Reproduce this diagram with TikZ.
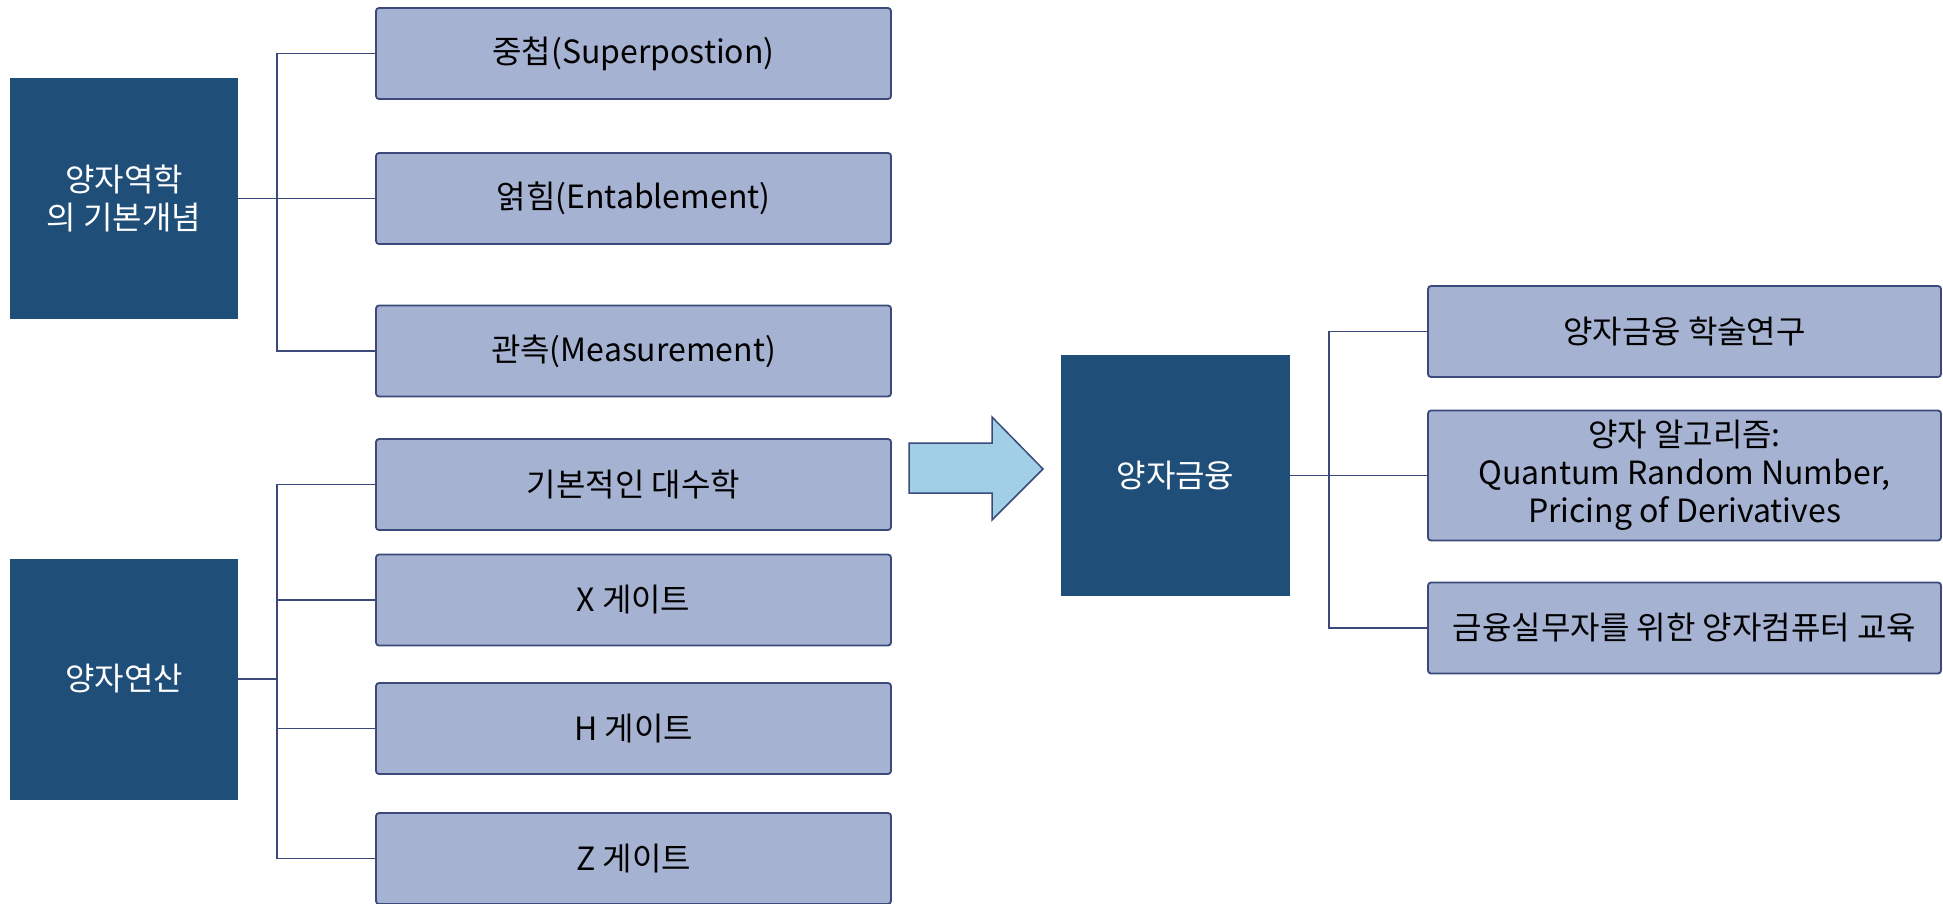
\documentclass[tikz,border=0pt]{standalone}
\usepackage{fontspec}
\setmainfont{Noto Sans CJK KR}
\usetikzlibrary{positioning}
\usetikzlibrary{calc}

\definecolor{headblue}{RGB}{31,78,121}
\definecolor{itemblue}{RGB}{165,178,210}
\definecolor{edgeblue}{RGB}{59,74,122}
\definecolor{arrowblue}{RGB}{161,208,230}

\begin{document}
\begin{tikzpicture}[x=1pt, y=-1pt,
	headbox/.style={rectangle, fill=headblue, text=white, minimum width=228pt, minimum height=241pt, inner sep=0pt, align=center, font=\fontsize{32}{38}\selectfont},
	itembox/.style={rectangle, rounded corners=3pt, draw=edgeblue, fill=itemblue, line width=1.8pt, minimum width=515pt, minimum height=91pt, inner sep=0pt, align=center, font=\fontsize{32}{38}\selectfont},
	link/.style={draw=edgeblue, line width=1.5pt}]
	\useasboundingbox (0,0) rectangle (1943,903);

	% quantum mechanics basics
	\node[headbox] (basics) at (124,198.5) {양자역학\\의 기본개념};
	\node[itembox] (superpos) at (633.5,53.5) {중첩(Superpostion)};
	\node[itembox] (entangle) at (633.5,198.5) {얽힘(Entablement)};
	\node[itembox] (measure) at (633.5,351) {관측(Measurement)};
	\draw[link] (basics.east) -- ++(39,0) |- (superpos.west);
	\draw[link] (basics.east) -- (entangle.west);
	\draw[link] (basics.east) -- ++(39,0) |- (measure.west);

	% quantum operations
	\node[headbox] (operations) at (124,679) {양자연산};
	\node[itembox] (algebra) at (633.5,484.5) {기본적인 대수학};
	\node[itembox] (xgate) at (633.5,600) {X 게이트};
	\node[itembox] (hgate) at (633.5,728.5) {H 게이트};
	\node[itembox] (zgate) at (633.5,858.5) {Z 게이트};
	\draw[link] (operations.east) -- ++(39,0) |- (algebra.west);
	\draw[link] (operations.east) -- ++(39,0) |- (xgate.west);
	\draw[link] (operations.east) -- ++(39,0) |- (hgate.west);
	\draw[link] (operations.east) -- ++(39,0) |- (zgate.west);

	% block arrow
	\draw[draw=edgeblue, fill=arrowblue, line width=1.5pt, line join=miter]
		(909,443) -- (992,443) -- (992,417) -- (1043,469) -- (992,520) -- (992,493) -- (909,493) -- cycle;

	% quantum finance
	\node[headbox, minimum width=229pt] (finance) at (1175.5,475.5) {양자금융};
	\node[itembox, minimum width=513pt] (research) at (1684.5,331.5) {양자금융 학술연구};
	\node[itembox, minimum width=513pt, minimum height=130pt] (algo) at (1684.5,475.5) {양자 알고리즘:\\Quantum Random Number,\\Pricing of Derivatives};
	\node[itembox, minimum width=513pt] (edu) at (1684.5,628) {금융실무자를 위한 양자컴퓨터 교육};
	\draw[link] (finance.east) -- ++(39,0) |- (research.west);
	\draw[link] (finance.east) -- (algo.west);
	\draw[link] (finance.east) -- ++(39,0) |- (edu.west);
\end{tikzpicture}
\end{document}
